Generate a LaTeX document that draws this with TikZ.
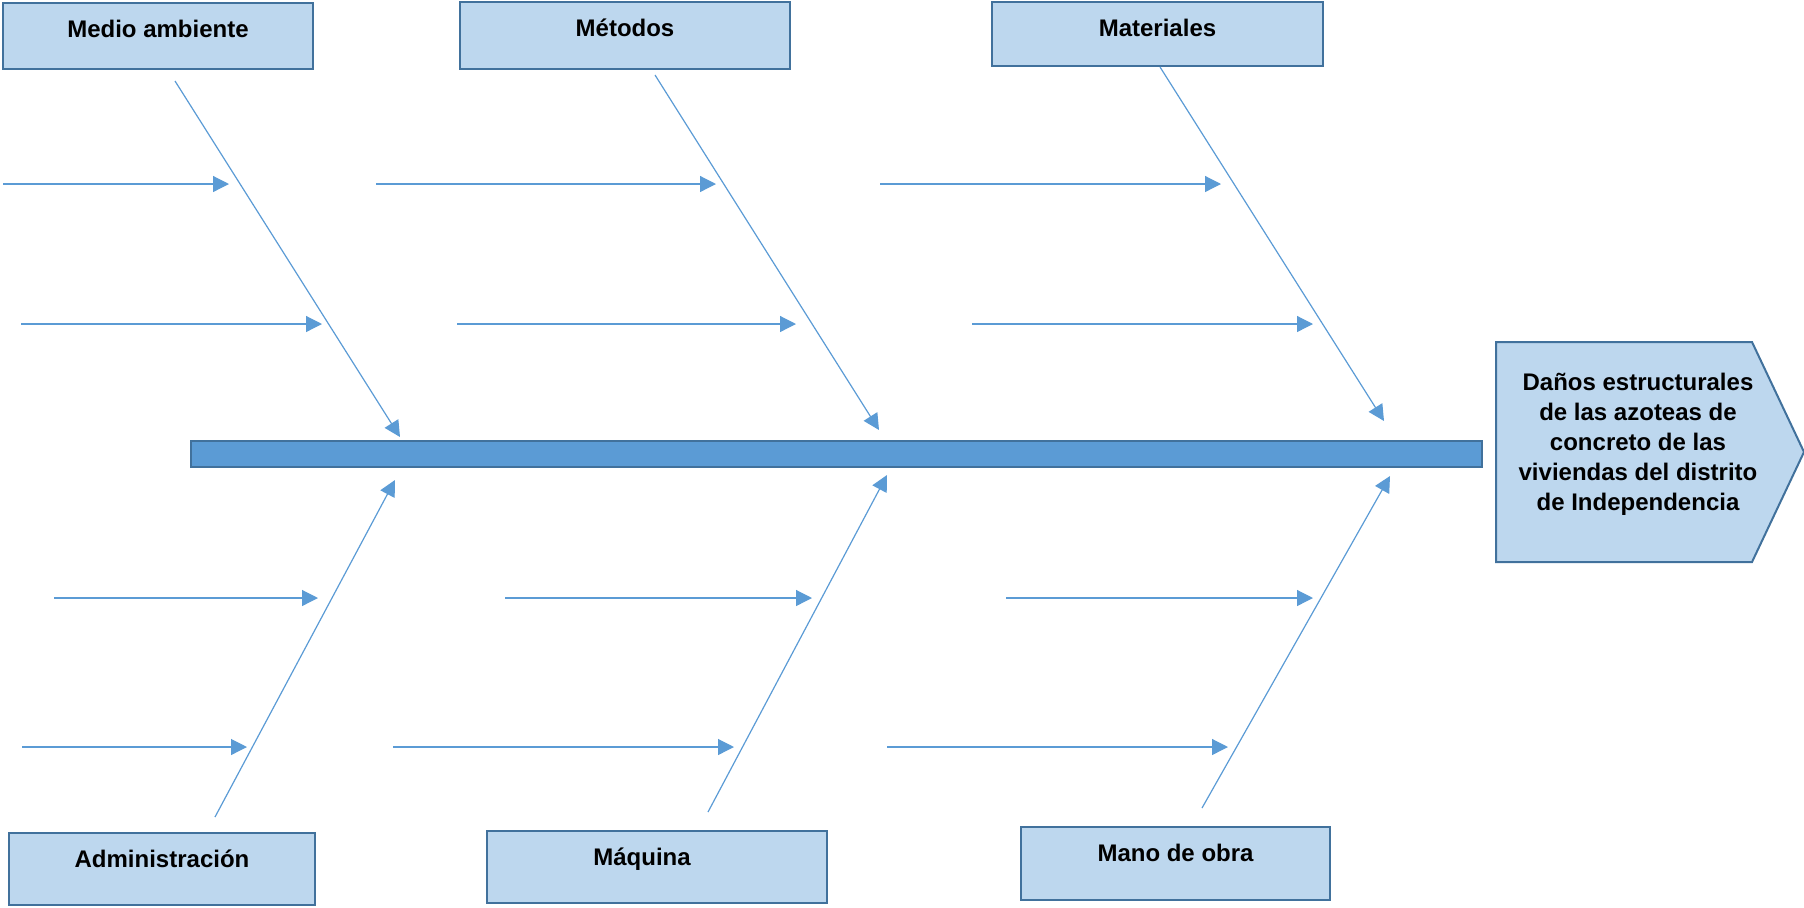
\documentclass[tikz,border=0pt]{standalone}
\usepackage{fontspec}
\setmainfont{Liberation Sans}
\usetikzlibrary{arrows.meta}

\definecolor{relleno}{HTML}{BDD7EE}
\definecolor{borde}{HTML}{41719C}
\definecolor{linea}{HTML}{5B9BD5}

\begin{document}
\begin{tikzpicture}[%
    x=0.5pt,
    y=-0.5pt,
    flecha/.style={color=linea, line width=0.6pt, -{Triangle[length=8pt, width=8pt]}},
    causa/.style={draw=borde, fill=relleno, line width=1pt, inner sep=0pt,
      anchor=north west, text height=17pt,
      font=\bfseries\fontsize{12}{15}\selectfont},
    efecto/.style={align=center, inner sep=0pt,
      font=\bfseries\fontsize{12}{15}\selectfont}
  ]
  \useasboundingbox (0,0) rectangle (1804,907);

  % espina y efecto
  \draw[draw=borde, fill=linea, line width=1pt] (191,441) rectangle (1482,467);
  \draw[draw=borde, fill=relleno, line width=1pt]
    (1496,342) -- (1752,342) -- (1804,452) -- (1752,562) -- (1496,562) -- cycle;
  \node[efecto] (E) at (1638,444) {Daños estructurales\\de las azoteas de\\concreto de las\\viviendas del distrito\\de Independencia};

  % causas
  \node[causa, minimum width=155pt, text depth=16pt]   (MA) at (2,2)     {Medio ambiente};
  \node[causa, minimum width=165pt, text depth=16.5pt] (ME) at (459,1)   {Métodos};
  \node[causa, minimum width=165.5pt, text depth=15pt] (MT) at (991,1)   {Materiales};
  \node[causa, minimum width=153pt, text depth=19pt]   (AD) at (8,832)   {Administración};
  \node[causa, minimum width=170pt, text depth=19pt]   (MQ) at (486,830) {Máquina\kern15pt};
  \node[causa, minimum width=154.5pt, text depth=19.5pt] (MO) at (1020,826) {Mano de obra};

  % espinas diagonales
  \coordinate (MA1) at (175,81);   \coordinate (MA2) at (400,437);
  \coordinate (ME1) at (655,75);   \coordinate (ME2) at (879,430);
  \coordinate (MT1) at (1160,67);  \coordinate (MT2) at (1384,421);
  \coordinate (AD1) at (215,817);  \coordinate (AD2) at (395,480);
  \coordinate (MQ1) at (708,812);  \coordinate (MQ2) at (887,475);
  \coordinate (MO1) at (1202,808); \coordinate (MO2) at (1390,476);

  \draw[flecha] (MA1) -- (MA2);
  \draw[flecha] (ME1) -- (ME2);
  \draw[flecha] (MT1) -- (MT2);
  \draw[flecha] (AD1) -- (AD2);
  \draw[flecha] (MQ1) -- (MQ2);
  \draw[flecha] (MO1) -- (MO2);

  % subcausas
  \foreach \n/\xa/\xb/\y in {a/3/229/184, b/376/716/184, c/880/1221/184,
                             d/21/322/324, e/457/796/324, f/972/1313/324,
                             g/54/318/598, h/505/812/598, i/1006/1313/598,
                             j/22/247/747, k/393/734/747, l/887/1228/747}
  {
    \coordinate (\n1) at (\xa,\y);
    \coordinate (\n2) at (\xb,\y);
    \draw[flecha] (\n1) -- (\n2);
  }
\end{tikzpicture}
\end{document}
